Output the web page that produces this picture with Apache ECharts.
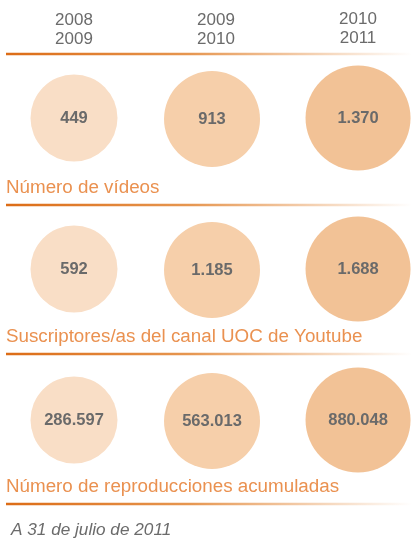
<!DOCTYPE html>
<html>
<head>
<meta charset="utf-8">
<script src="https://cdn.jsdelivr.net/npm/echarts@6/dist/echarts.min.js"></script>
<style>
  html, body { margin: 0; padding: 0; background: #fff; }
  #main { width: 412px; height: 538px; }
</style>
</head>
<body>
<div id="main"></div>
<script>
var myChart = echarts.init(document.getElementById('main'));

// periodos (columnas)
var periods = ['2008\n2009', '2009\n2010', '2010\n2011'];
// indicadores (filas)
var metrics = [
    'Número de vídeos',
    'Suscriptores/as del canal UOC de Youtube',
    'Número de reproducciones acumuladas'
];
var videos = [449, 913, 1370];
var subscribers = [592, 1185, 1688];
var plays = [286597, 563013, 880048];
var note = 'A 31 de julio de 2011';

var rows = [videos, subscribers, plays];
var colColors = ['#f9dec6', '#f6cfaa', '#f2c296'];
var colSizes = [87, 96, 105];
var colOffsets = [[0, 0], [-4, 1], [0, 0]];
var lineYs = [54, 205, 354, 504];

var fmt = function (v) {
    return String(v).replace(/\B(?=(\d{3})+(?!\d))/g, '.');
};

var lineGrad = new echarts.graphic.LinearGradient(0, 0, 1, 0, [
    { offset: 0, color: '#dc6c16' },
    { offset: 0.45, color: '#e69650' },
    { offset: 1, color: '#ffffff' }
]);

var graphics = [];
for (var k = 0; k < lineYs.length; k++) {
    graphics.push({
        type: 'rect',
        shape: { x: 6, y: lineYs[k] - 1.2, width: 406, height: 2.5 },
        style: { fill: lineGrad },
        silent: true
    });
}
for (var j = 0; j < metrics.length; j++) {
    graphics.push({
        type: 'text',
        x: 6,
        y: lineYs[j + 1] - 17,
        style: {
            text: metrics[j],
            fill: '#ea9150',
            font: '18.8px "Liberation Sans", Arial, sans-serif',
            verticalAlign: 'middle'
        }
    });
}
graphics.push({
    type: 'text',
    x: 11,
    y: 530,
    style: {
        text: note,
        fill: '#6b6b6b',
        font: 'italic 17.2px "Liberation Sans", Arial, sans-serif',
        verticalAlign: 'middle'
    }
});

var series = [];
for (var i = 0; i < periods.length; i++) {
    var data = [];
    for (var r = 0; r < rows.length; r++) {
        data.push([i, r, rows[r][i]]);
    }
    series.push({
        name: periods[i],
        type: 'scatter',
        symbol: 'circle',
        symbolSize: colSizes[i],
        symbolOffset: colOffsets[i],
        itemStyle: { color: colColors[i], opacity: 1 },
        label: {
            show: true,
            position: 'inside',
            formatter: function (p) { return fmt(p.value[2]); },
            color: '#6a6a6a',
            fontFamily: '"Liberation Sans", Arial, sans-serif',
            fontWeight: 'bold',
            fontSize: 16.5
        },
        emphasis: { disabled: true },
        data: data
    });
}

var option = {
    animation: false,
    grid: { left: 0, right: 0, top: 42.5, height: 453 },
    xAxis: {
        type: 'value',
        position: 'top',
        min: -0.521,
        max: 2.380,
        axisLine: { show: false },
        axisTick: { show: false },
        axisLabel: {
            customValues: [0, 1, 2],
            formatter: function (v) {
                var idx = Math.round(v);
                return idx === 2 ? '{up|' + periods[idx].replace('\n', '}\n{up|') + '}' : periods[idx];
            },
            margin: -6,
            color: '#6b6b6b',
            fontSize: 17,
            lineHeight: 19,
            fontFamily: '"Liberation Sans", Arial, sans-serif',
            rich: {
                up: {
                    color: '#6b6b6b',
                    fontSize: 17,
                    lineHeight: 19,
                    padding: [0, 0, 2, 0],
                    fontFamily: '"Liberation Sans", Arial, sans-serif'
                }
            }
        },
        splitLine: { show: false }
    },
    yAxis: {
        type: 'category',
        inverse: true,
        data: metrics,
        show: false
    },
    graphic: graphics,
    series: series
};

myChart.setOption(option);
</script>
</body>
</html>
